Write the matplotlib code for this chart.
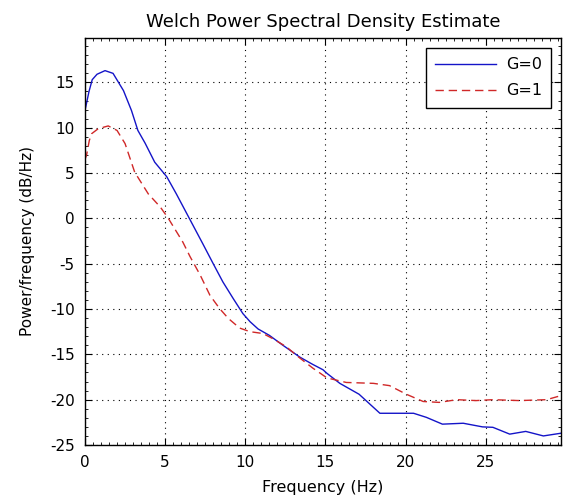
#!/usr/bin/env python

import matplotlib
matplotlib.use('Agg')
import matplotlib.pyplot as plt
from matplotlib.ticker import MultipleLocator

plt.rcParams['font.family'] = ['DejaVu Sans']
plt.rcParams['axes.unicode_minus'] = False

# Welch PSD estimates (Hz, dB/Hz)
freq_g0 = [0, 0.25, 0.45, 0.75, 1.25, 1.75, 2.4, 2.9, 3.3, 3.75, 4.35, 5.1,
           5.7, 6.6, 7.35, 8.0, 8.6, 9.25, 9.85, 10.3, 10.8, 11.5, 12.35,
           13.4, 14.2, 14.85, 15.1, 15.9, 17.1, 18.4, 19.0, 20.5, 21.3, 22.3,
           23.6, 24.8, 25.45, 26.5, 27.5, 28.6, 29.7]
psd_g0 = [11.9, 14.0, 15.3, 15.9, 16.3, 16.0, 14.1, 11.9, 9.7, 8.3, 6.2, 4.6,
          2.7, -0.3, -2.8, -5.0, -7.0, -8.85, -10.5, -11.4, -12.2, -12.9,
          -14.0, -15.3, -16.1, -16.7, -17.1, -18.2, -19.4, -21.5, -21.5,
          -21.5, -21.95, -22.7, -22.6, -23.0, -23.05, -23.8, -23.5, -24.0,
          -23.7]

freq_g1 = [0, 0.1, 0.27, 0.42, 0.83, 1.45, 2.0, 2.5, 3.1, 3.95, 4.7, 5.2,
           6.1, 6.55, 7.2, 7.8, 8.4, 8.95, 9.65, 10.3, 11.1, 11.7, 12.55,
           13.4, 14.2, 15.1, 16.3, 18.0, 19.0, 20.05, 21.1, 22.1, 23.2, 24.4,
           25.45, 27.1, 28.8, 29.7]
psd_g1 = [6.5, 7.0, 8.6, 9.35, 9.9, 10.2, 9.7, 8.25, 5.1, 2.7, 1.25, 0.0,
          -2.6, -4.2, -6.3, -8.5, -9.95, -11.05, -12.1, -12.5, -12.7, -13.25,
          -14.15, -15.4, -16.5, -17.6, -18.1, -18.2, -18.45, -19.4, -20.2,
          -20.3, -20.0, -20.1, -20.0, -20.1, -20.0, -19.55]

labels = ['G=0', 'G=1']
xticks = [0, 5, 10, 15, 20, 25]
yticks = [-25, -20, -15, -10, -5, 0, 5, 10, 15]

fig = plt.figure(figsize=(5.64, 5.0), dpi=100)
ax = fig.add_axes([0.1507, 0.11, 0.8440, 0.814])

ax.plot(freq_g0, psd_g0, color='#1414c8', lw=1.0, label=labels[0])
ax.plot(freq_g1, psd_g1, color='#d02828', lw=1.0, ls=(0, (6, 3.5)),
        label=labels[1])

ax.set_xlim(0, 29.7)
ax.set_ylim(-25, 19.9)
ax.set_xticks(xticks)
ax.set_yticks(yticks)
ax.xaxis.set_minor_locator(MultipleLocator(0.5))
ax.yaxis.set_minor_locator(MultipleLocator(1))
ax.tick_params(which='both', direction='in', top=True, right=True,
               labelsize=11, colors='black')
ax.tick_params(which='major', length=5, width=0.8, pad=7.5)
ax.tick_params(which='minor', length=2.5, width=0.6)
for sp in ax.spines.values():
    sp.set_linewidth(1.0)

ax.grid(True, which='major', color='black', ls=(0, (1, 4)), lw=0.8)

ax.set_title('Welch Power Spectral Density Estimate', fontsize=13, pad=8)
ax.set_xlabel('Frequency (Hz)', fontsize=11.5, labelpad=7)
ax.set_ylabel('Power/frequency (dB/Hz)', fontsize=11, labelpad=11)

leg = ax.legend(loc='upper right', fontsize=11.5, fancybox=False,
                framealpha=1, edgecolor='black', handlelength=3.8,
                borderpad=0.6, labelspacing=0.7, handletextpad=0.6,
                borderaxespad=0.6)
leg.get_frame().set_linewidth(1.0)

fig.savefig('out.png', dpi=100)
